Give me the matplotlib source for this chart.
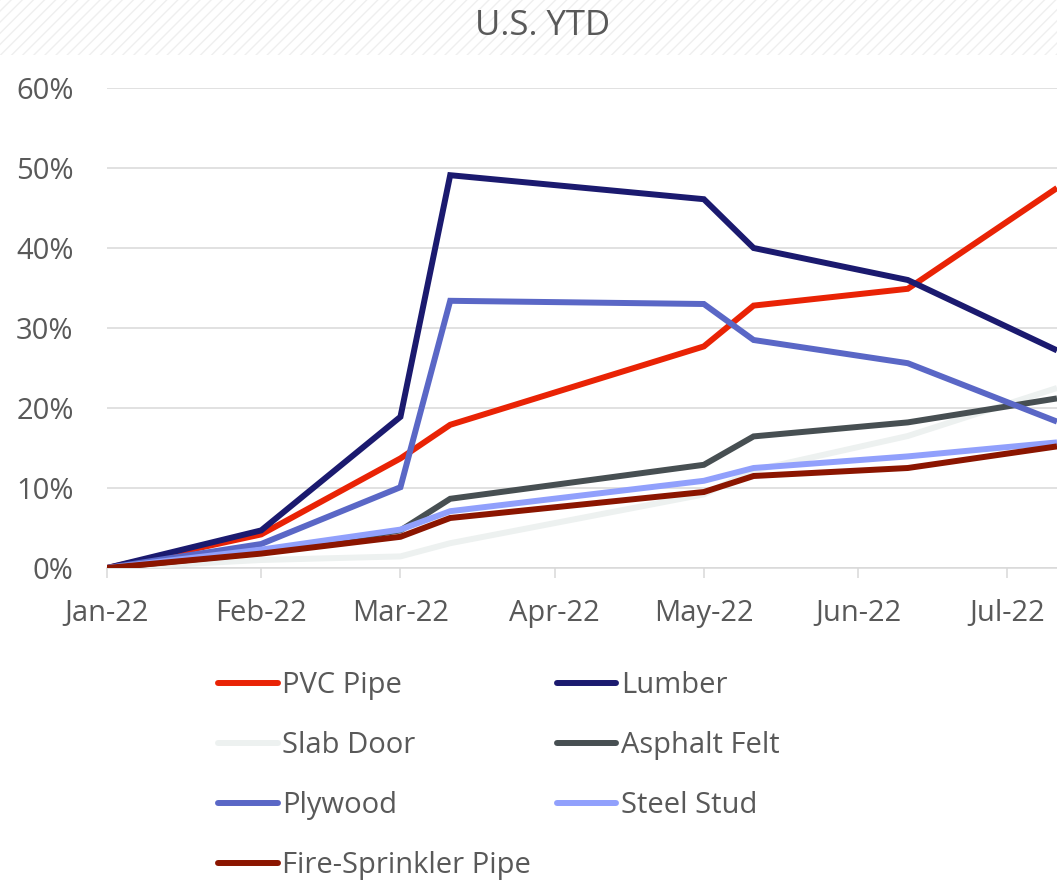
import numpy as np
import matplotlib
matplotlib.use("Agg")
import matplotlib.pyplot as plt
import matplotlib.dates as mdates
from matplotlib.patches import Rectangle
from matplotlib.ticker import PercentFormatter

plt.rcParams["font.family"] = ["Open Sans", "DejaVu Sans"]

# observation dates
dates = np.array(["2022-01-01", "2022-02-01", "2022-03-01", "2022-03-11",
                  "2022-05-01", "2022-05-11", "2022-06-11", "2022-07-11"],
                 dtype="datetime64[D]")

# YTD change, percent
pvc_pipe = [0, 4.2, 13.7, 17.9, 27.7, 32.8, 34.9, 47.5]
lumber = [0, 4.7, 18.9, 49.1, 46.1, 40.0, 36.0, 27.2]
slab_door = [0, 1.0, 1.45, 3.1, 9.2, 12.2, 16.5, 22.5]
asphalt_felt = [0, 1.9, 4.7, 8.65, 12.9, 16.45, 18.2, 21.2]
plywood = [0, 3.0, 10.1, 33.4, 33.0, 28.5, 25.6, 18.3]
steel_stud = [0, 2.3, 4.8, 7.1, 10.9, 12.5, 13.95, 15.7]
fire_sprinkler = [0, 1.8, 3.9, 6.25, 9.5, 11.5, 12.5, 15.2]

series = [
    ("PVC Pipe", pvc_pipe, "#E92305"),
    ("Lumber", lumber, "#1B1A6F"),
    ("Slab Door", slab_door, "#EDF1F0"),
    ("Asphalt Felt", asphalt_felt, "#474F52"),
    ("Plywood", plywood, "#5A67C6"),
    ("Steel Stud", steel_stud, "#91A0FC"),
    ("Fire-Sprinkler Pipe", fire_sprinkler, "#8B1500"),
]

fig = plt.figure(figsize=(10.57, 8.83), dpi=100)
ax = fig.add_axes([107 / 1057, 1 - 568 / 883, 950 / 1057, 480 / 883])

# hatched title band
fig.patches.append(Rectangle((0, 1 - 55 / 883), 1, 55 / 883, transform=fig.transFigure,
                             facecolor="white", edgecolor="#EFEFEF", hatch="///", lw=0,
                             zorder=0))

lines = {}
for name, vals, col in series:
    ln, = ax.plot(dates, vals, color=col, lw=4.3, solid_joinstyle="miter",
                  solid_capstyle="butt", label=name, zorder=3)
    lines[name] = ln

ax.set_xlim(np.datetime64("2022-01-01"), np.datetime64("2022-07-11"))
ax.set_ylim(0, 60)
ax.yaxis.set_major_formatter(PercentFormatter(decimals=0))
ax.set_yticks(range(0, 61, 10))
ax.xaxis.set_major_locator(mdates.MonthLocator())
ax.xaxis.set_major_formatter(mdates.DateFormatter("%b-%y"))

ax.grid(axis="y", color="#D9D9D9", lw=1.1)
ax.set_axisbelow(True)
for s in ["top", "right", "left"]:
    ax.spines[s].set_visible(False)
ax.spines["bottom"].set_color("#D9D9D9")
ax.spines["bottom"].set_linewidth(1.1)
ax.tick_params(axis="y", length=0, pad=24, labelsize=21, labelcolor="#595959")
ax.tick_params(axis="x", length=7, width=1.1, color="#D9D9D9", pad=15,
               labelsize=21, labelcolor="#595959")

fig.text(543 / 1057, 1 - 26 / 883, "U.S. YTD", ha="center", va="center",
         fontsize=25, color="#595959")

order = ["PVC Pipe", "Slab Door", "Plywood", "Fire-Sprinkler Pipe",
         "Lumber", "Asphalt Felt", "Steel Stud"]
leg = fig.legend([lines[n] for n in order], order, ncol=2, loc="upper left",
                 bbox_to_anchor=(218 / 1057, 1 - 671 / 883), frameon=False,
                 fontsize=21, handlelength=2.05, handletextpad=0.15,
                 columnspacing=0.88, labelspacing=1.06, borderpad=0,
                 borderaxespad=0)
for t in leg.get_texts():
    t.set_color("#595959")
for h in leg.legend_handles:
    h.set_solid_capstyle("round")

fig.savefig("out.png", dpi=100)
